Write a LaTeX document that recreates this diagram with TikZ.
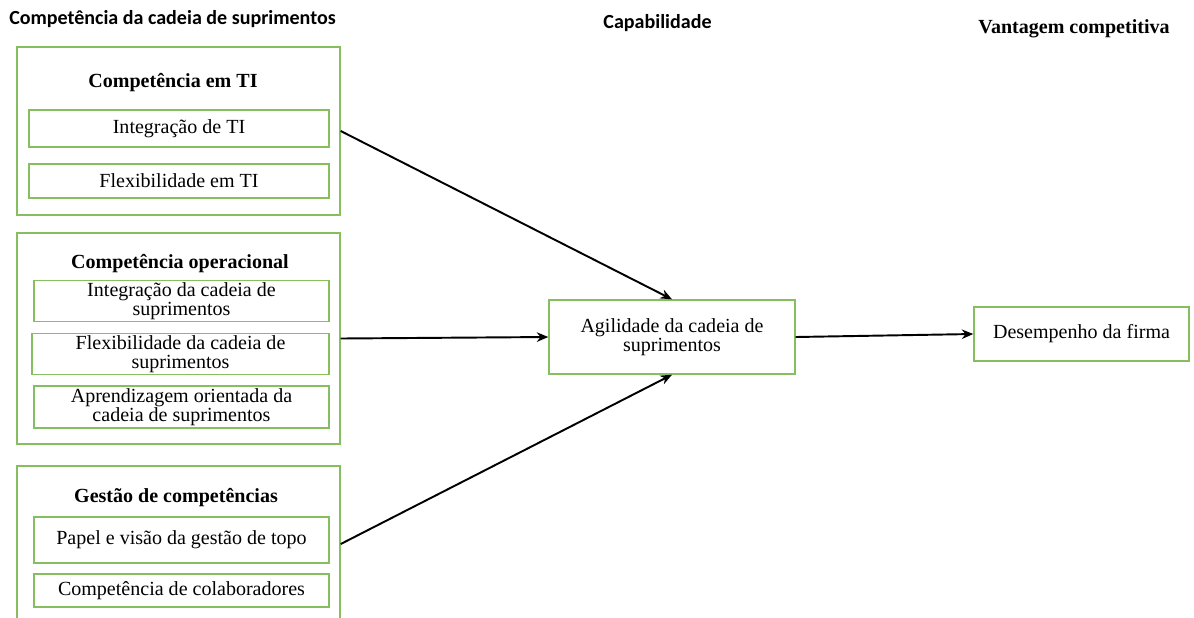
\documentclass[tikz,border=0pt]{standalone}
\usepackage{fontspec}
\setmainfont{Liberation Serif}
\newfontfamily\hdfont{Carlito}
\usepackage{tikz}
\usetikzlibrary{arrows.meta}
\definecolor{boxgreen}{RGB}{135,190,95}
\newcommand{\diagsize}{\fontsize{11.4}{10.8}\selectfont}

\tikzset{
    outerbox/.style={draw=boxgreen, line width=0.8pt, minimum width=6.46cm},
    innerbox/.style={draw=boxgreen, line width=0.8pt, align=center, inner sep=1pt},
    heading/.style={font=\diagsize\hdfont\bfseries},
    boxtitle/.style={font=\diagsize\bfseries},
    link/.style={->, line width=1.1pt}
}

\begin{document}
\begin{tikzpicture}[>={Stealth[length=2.3mm, width=1.9mm]}, font=\diagsize]
    \useasboundingbox (0,0) rectangle (23.88,-12.34);
    \clip (0,0) rectangle (23.88,-12.34);

    % column headings
    \node[heading] (hcomp) at (3.45,-0.38) {Competência da cadeia de suprimentos};
    \node[heading] (hcap) at (13.15,-0.46) {Capabilidade};
    \node[boxtitle] (hvant) at (21.48,-0.58) {Vantagem competitiva};

    % TI
    \node[outerbox, minimum height=3.36cm] (ti) at (3.57,-2.62) {};
    \node[boxtitle] (tititle) at (3.46,-1.66) {Competência em TI};
    \node[innerbox, minimum width=6.0cm, minimum height=0.74cm] (tiint) at (3.58,-2.57) {Integração de TI};
    \node[innerbox, minimum width=6.0cm, minimum height=0.68cm] (tiflex) at (3.58,-3.62) {Flexibilidade em TI};

    % operacional
    \node[outerbox, minimum height=4.22cm] (ops) at (3.57,-6.77) {};
    \node[boxtitle] (opstitle) at (3.6,-5.28) {Competência operacional};
    \node[innerbox, minimum width=5.9cm, minimum height=0.8cm] (opsint) at (3.63,-6.02) {Integração da cadeia de\\suprimentos};
    \node[innerbox, minimum width=5.94cm, minimum height=0.8cm] (opsflex) at (3.61,-7.08) {Flexibilidade da cadeia de\\suprimentos};
    \node[innerbox, minimum width=5.9cm, minimum height=0.84cm] (opsapr) at (3.63,-8.14) {Aprendizagem orientada da\\cadeia de suprimentos};

    % gestao
    \node[outerbox, minimum height=3.12cm] (gest) at (3.57,-10.88) {};
    \node[boxtitle] (gesttitle) at (3.52,-9.96) {Gestão de competências};
    \node[innerbox, minimum width=5.9cm, minimum height=0.92cm] (gestpap) at (3.63,-10.8) {Papel e visão da gestão de topo};
    \node[innerbox, minimum width=5.9cm, minimum height=0.66cm] (gestcol) at (3.63,-11.81) {Competência de colaboradores};

    % capabilidade e vantagem
    \node[innerbox, minimum width=4.92cm, minimum height=1.48cm] (agil) at (13.44,-6.74) {Agilidade da cadeia de\\suprimentos};
    \node[innerbox, minimum width=4.3cm, minimum height=1.08cm] (desemp) at (21.63,-6.68) {Desempenho da firma};

    \draw[link] (ti.east) -- (agil.north);
    \draw[link] (ops.east) -- (agil.west);
    \draw[link] (gest.east) -- (agil.south);
    \draw[link] (agil.east) -- (desemp.west);
\end{tikzpicture}
\end{document}
